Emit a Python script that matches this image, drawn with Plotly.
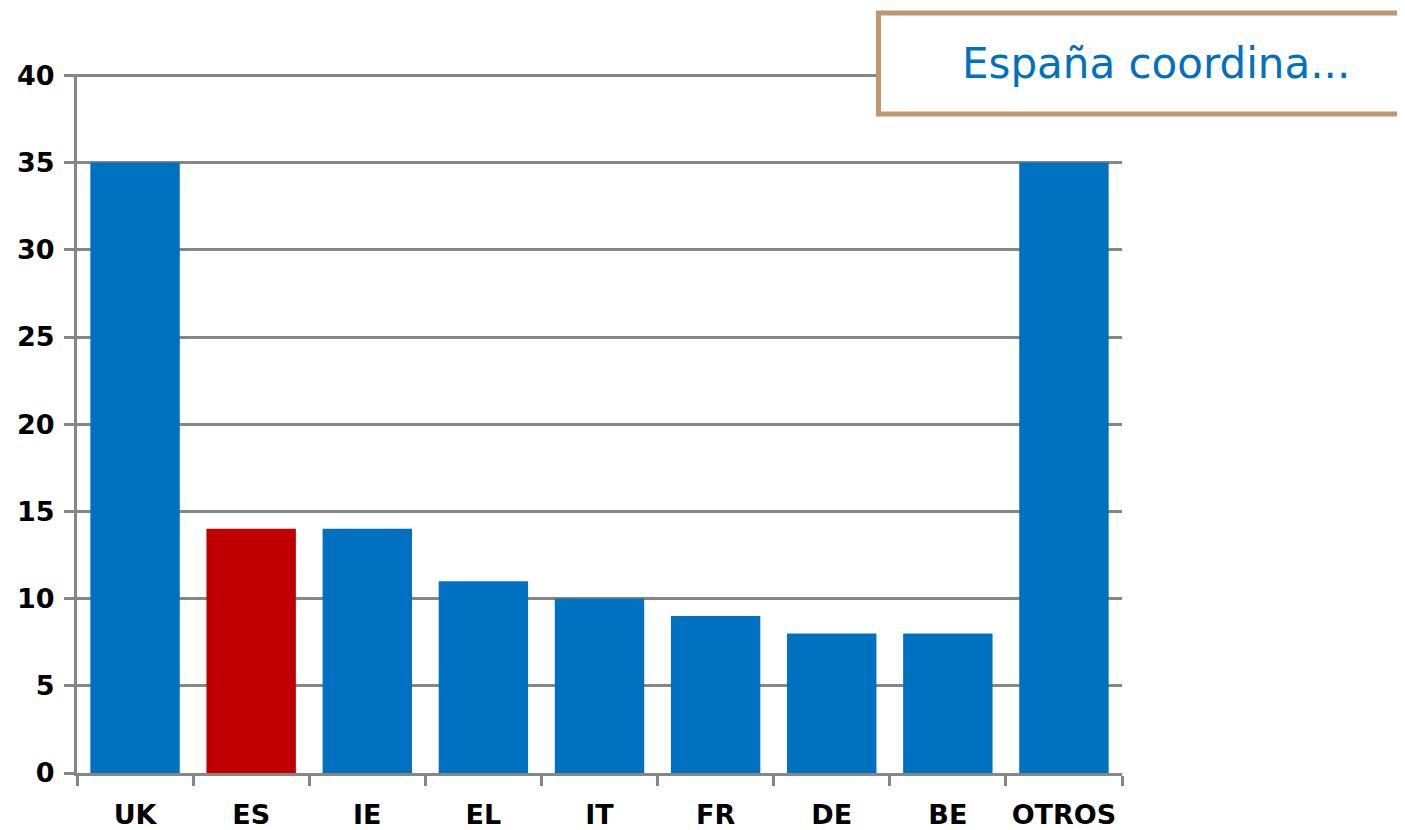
import plotly.graph_objects as go

# country codes and values
countries = ["UK", "ES", "IE", "EL", "IT", "FR", "DE", "BE", "OTROS"]
values = [35, 14, 14, 11, 10, 9, 8, 8, 35]
highlight = "ES"

y_ticks = [0, 5, 10, 15, 20, 25, 30, 35, 40]

BLUE = "#0070C0"
RED = "#C00000"
GRID = "#868686"

bar_colors = [RED if c == highlight else BLUE for c in countries]

fig = go.Figure(
    go.Bar(
        x=countries,
        y=values,
        marker=dict(color=bar_colors, line_width=0),
    )
)

fig.update_layout(
    width=1405,
    height=830,
    margin=dict(l=69, r=291, t=66, b=65),
    plot_bgcolor="white",
    paper_bgcolor="white",
    bargap=0.23,
    showlegend=False,
    font=dict(family="DejaVu Sans", color="black"),
)

tick_font = dict(size=27, family="DejaVu Sans", weight="bold", color="black")

fig.update_yaxes(
    # a hair above 40 so the top grid line is still drawn
    range=[0, 40.08],
    tickvals=y_ticks,
    automargin=False,
    showgrid=True,
    gridcolor=GRID,
    gridwidth=3,
    zeroline=False,
    showline=True,
    linecolor=GRID,
    linewidth=3,
    ticks="outside",
    ticklen=10,
    tickwidth=3,
    tickcolor=GRID,
    tickfont=tick_font,
    ticklabelstandoff=4,
)

fig.update_xaxes(
    automargin=False,
    showline=True,
    linecolor=GRID,
    linewidth=3,
    ticks="outside",
    tickson="boundaries",
    ticklen=10,
    tickwidth=3,
    tickcolor=GRID,
    tickfont=tick_font,
    ticklabelstandoff=16,
)

# the "España coordina..." box in the top right corner
fig.add_shape(
    type="rect",
    xref="paper",
    yref="paper",
    x0=(878 - 75) / 1047,
    x1=(1440 - 75) / 1047,
    y0=(773 - 114) / 699,
    y1=(773 - 13) / 699,
    line=dict(color="#BF9670", width=5),
    fillcolor="white",
    layer="above",
)
fig.add_annotation(
    xref="paper",
    yref="paper",
    x=(1156 - 75) / 1047,
    y=(773 - 63) / 699,
    text="España coordina...",
    showarrow=False,
    xanchor="center",
    yanchor="middle",
    font=dict(size=42, family="DejaVu Sans", color=BLUE),
)

fig.write_html("out.html")
